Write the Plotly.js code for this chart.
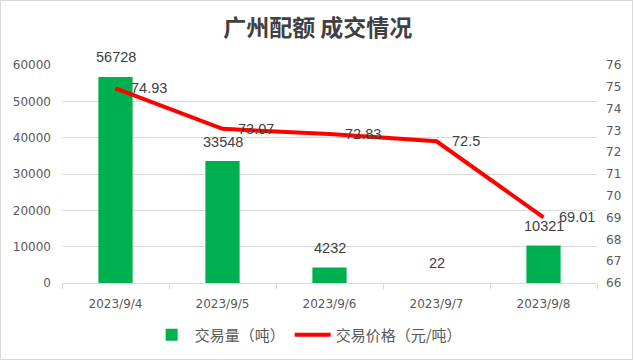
<!DOCTYPE html>
<html>
<head>
<meta charset="utf-8">
<script src="https://cdn.plot.ly/plotly-3.0.1.min.js"></script>
<style>
html,body{margin:0;padding:0;background:#fff;}
#wrap{position:absolute;left:0;top:0;width:631px;height:358px;border:1px solid #d9d9d9;}
#chart{width:631px;height:358px;}
</style>
</head>
<body>
<div id="wrap"><div id="chart"></div></div>
<script>
var dates = ["2023/9/4", "2023/9/5", "2023/9/6", "2023/9/7", "2023/9/8"];
var volume = [56728, 33548, 4232, 22, 10321];
var price = [74.93, 73.07, 72.83, 72.5, 69.01];
var volumeName = "交易量（吨）";
var priceName = "交易价格（元/吨）";
var titleText = "广州配额 成交情况";

var tickFont = {family: "DejaVu Sans", size: 12, color: "#595959"};
var labelFont = {family: "Liberation Sans", size: 14.5, color: "#404040"};

var bars = {
  type: "bar", x: dates, y: volume, name: volumeName,
  marker: {color: "#00B050"}, width: 0.32, yaxis: "y", hoverinfo: "skip"
};
var line = {
  type: "scatter", mode: "lines", x: dates, y: price, name: priceName,
  line: {color: "#FF0000", width: 4}, yaxis: "y2", hoverinfo: "skip"
};

var annotations = [];
for (var i = 0; i < dates.length; i++) {
  annotations.push({
    x: dates[i], y: volume[i], xref: "x", yref: "y", text: String(volume[i]),
    showarrow: false, xanchor: "center", yanchor: "middle", yshift: 19.5, font: labelFont
  });
  annotations.push({
    x: dates[i], y: price[i], xref: "x", yref: "y2", text: String(price[i]),
    showarrow: false, xanchor: "left", yanchor: "middle", xshift: 13, font: labelFont
  });
}

var layout = {
  width: 631, height: 358,
  margin: {l: 61, r: 35, t: 64, b: 76},
  paper_bgcolor: "#ffffff", plot_bgcolor: "#ffffff",
  title: {
    text: titleText, x: 0.502, xanchor: "center", y: 0.925, yanchor: "middle",
    font: {family: "Noto Sans CJK SC", size: 23, color: "#404040", weight: 700}
  },
  showlegend: true,
  legend: {
    orientation: "h", x: 0.486, xanchor: "center", xref: "container",
    y: 0.067, yanchor: "middle", yref: "container",
    font: {family: "Noto Sans CJK SC", size: 15, color: "#595959"},
    itemwidth: 36, traceorder: "normal"
  },
  xaxis: {
    type: "category", tickfont: tickFont, showgrid: false,
    showline: true, linecolor: "#d9d9d9", linewidth: 1,
    ticks: "outside", tickson: "boundaries", ticklen: 5, tickcolor: "#d9d9d9",
    ticklabelstandoff: 10, automargin: false, fixedrange: true
  },
  yaxis: {
    range: [0, 60000], dtick: 10000, tickformat: "d", tickfont: tickFont,
    showgrid: true, gridcolor: "#d9d9d9", gridwidth: 1,
    zeroline: false, showline: false, ticks: "", ticklabelstandoff: 10,
    automargin: false, fixedrange: true
  },
  yaxis2: {
    overlaying: "y", side: "right", range: [66, 76], dtick: 1, tickfont: tickFont,
    showgrid: false, zeroline: false, showline: false, ticks: "", ticklabelstandoff: 8,
    automargin: false, fixedrange: true
  },
  annotations: annotations
};

Plotly.newPlot("chart", [bars, line], layout, {displayModeBar: false, staticPlot: true});
</script>
</body>
</html>
